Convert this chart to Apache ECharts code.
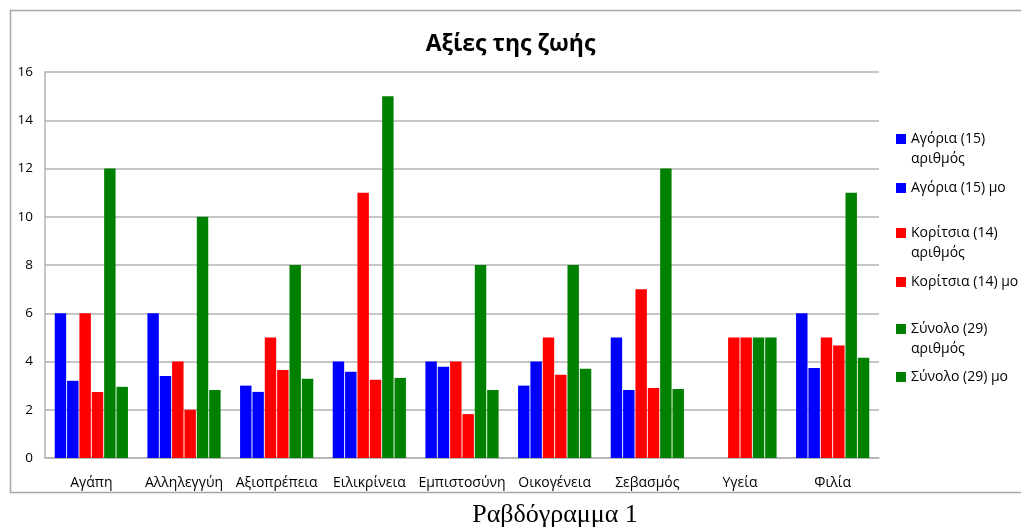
<!DOCTYPE html>
<html>
<head>
<meta charset="utf-8">
<script src="https://cdn.jsdelivr.net/npm/echarts@6/dist/echarts.min.js"></script>
<style>
html,body{margin:0;padding:0;background:#fff;}
#c{width:1021px;height:528px;}
</style>
</head>
<body>
<div id="c"></div>
<script>
const categories = ['Αγάπη','Αλληλεγγύη','Αξιοπρέπεια','Ειλικρίνεια','Εμπιστοσύνη','Οικογένεια','Σεβασμός','Υγεία','Φιλία'];
const seriesNames = ['Αγόρια (15) αριθμός','Αγόρια (15) μο','Κορίτσια (14) αριθμός','Κορίτσια (14) μο','Σύνολο (29) αριθμός','Σύνολο (29) μο'];
const boysCount  = [6, 6, 3, 4, 4, 3, 5, 0, 6];
const boysMean   = [3.2, 3.4, 2.74, 3.57, 3.78, 4.0, 2.82, 0, 3.73];
const girlsCount = [6, 4, 5, 11, 4, 5, 7, 5, 5];
const girlsMean  = [2.74, 2.0, 3.65, 3.24, 1.82, 3.45, 2.9, 5, 4.66];
const totalCount = [12, 10, 8, 15, 8, 8, 12, 5, 11];
const totalMean  = [2.95, 2.82, 3.28, 3.32, 2.82, 3.7, 2.86, 5, 4.16];
const yTicks = [0, 2, 4, 6, 8, 10, 12, 14, 16];
const titleText = 'Αξίες της ζωής';
const captionText = 'Ραβδόγραμμα 1';

const seriesData = [boysCount, boysMean, girlsCount, girlsMean, totalCount, totalMean];
const colors = ['#0000FF', '#0000FF', '#FF0000', '#FF0000', '#008000', '#008000'];
const FONT = '"Open Sans", "Noto Sans", sans-serif';

const chart = echarts.init(document.getElementById('c'), null, {renderer: 'canvas'});

// legend item centers (first text line)
const legendCenters = [139, 188, 233, 282, 329, 377];
const legends = seriesNames.map((n, i) => {
  const twoLine = n.indexOf('αριθμός') >= 0;
  return {
    show: true,
    orient: 'vertical',
    left: 896,
    top: legendCenters[i] - 10,
    padding: 0,
    itemWidth: 10,
    itemHeight: twoLine ? 30 : 10,
    selectedMode: false,
    data: [{
      name: n,
      icon: twoLine ? 'path://M0,0L10,0L10,10L0,10Z M0,29.99L0.01,30' : 'rect'
    }],
    formatter: function (name) { return name.replace(' αριθμός', '\nαριθμός'); },
    textStyle: {fontFamily: FONT, fontSize: 14, lineHeight: 20, color: '#000'}
  };
});

const option = {
  backgroundColor: '#ffffff',
  animation: false,
  title: {
    text: titleText,
    left: 'center',
    top: 24,
    textStyle: {fontFamily: FONT, fontSize: 23, fontWeight: 'bold', color: '#000', lineHeight: 30}
  },
  legend: legends,
  grid: {left: 45, right: 142, top: 72, bottom: 70, containLabel: false},
  xAxis: {
    type: 'category',
    data: categories,
    axisLine: {show: true, lineStyle: {color: '#b3b3b3', width: 1.5}},
    axisTick: {show: false},
    axisLabel: {fontFamily: FONT, fontSize: 14, color: '#000', margin: 18, interval: 0}
  },
  yAxis: {
    type: 'value',
    min: yTicks[0],
    max: yTicks[yTicks.length - 1],
    interval: yTicks[1] - yTicks[0],
    axisLine: {show: true, lineStyle: {color: '#b3b3b3', width: 1.5}},
    axisTick: {show: false},
    axisLabel: {fontFamily: FONT, fontSize: 13.5, color: '#000', margin: 12},
    splitLine: {show: true, lineStyle: {color: '#b3b3b3', width: 1.5}}
  },
  series: seriesNames.map((n, i) => ({
    name: n,
    type: 'bar',
    data: seriesData[i],
    barCategoryGap: '21%',
    barGap: '8%',
    itemStyle: {color: colors[i]}
  })),
  graphic: [
    {
      type: 'rect',
      silent: true,
      shape: {x: 10.5, y: 10.5, width: 1100, height: 482},
      style: {fill: null, stroke: '#a6a6a6', lineWidth: 1.5}
    },
    {
      type: 'text',
      silent: true,
      x: 555,
      y: 515,
      style: {
        text: captionText,
        fontFamily: '"Liberation Serif", "DejaVu Serif", serif',
        fontSize: 26,
        fill: '#000',
        align: 'center',
        verticalAlign: 'middle',
        textAlign: 'center',
        textVerticalAlign: 'middle'
      }
    }
  ]
};

chart.setOption(option);
</script>
</body>
</html>
